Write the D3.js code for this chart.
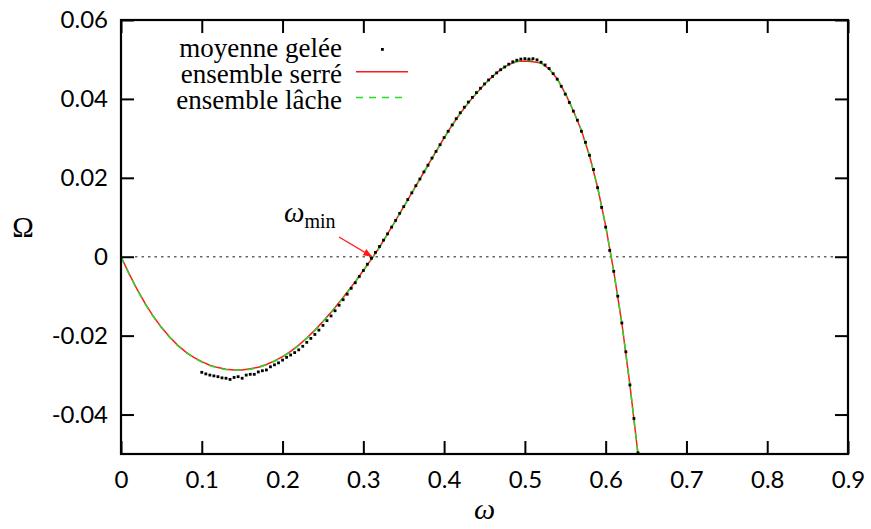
<!DOCTYPE html>
<html>
<head>
<meta charset="utf-8">
<script src="https://cdn.jsdelivr.net/npm/d3@7"></script>
<style>
  body { margin: 0; background: #fff; }
  svg { display: block; }
</style>
</head>
<body>
<div id="chart"></div>
<script>
// courbe theorique (ensemble serre / lache), pas de 0.01
const omegaTheo = [0, 0.01, 0.02, 0.03, 0.04, 0.05, 0.06, 0.07, 0.08, 0.09,
  0.10, 0.11, 0.12, 0.13, 0.14, 0.15, 0.16, 0.17, 0.18, 0.19,
  0.20, 0.21, 0.22, 0.23, 0.24, 0.25, 0.26, 0.27, 0.28, 0.29,
  0.30, 0.31, 0.32, 0.33, 0.34, 0.35, 0.36, 0.37, 0.38, 0.39,
  0.40, 0.41, 0.42, 0.43, 0.44, 0.45, 0.46, 0.47, 0.48, 0.49,
  0.50, 0.51, 0.52, 0.53, 0.54, 0.55, 0.56, 0.57, 0.58, 0.59,
  0.60, 0.61, 0.62, 0.63, 0.64];
const omegaSerre = [0, -0.0043, -0.0083, -0.0119, -0.0151, -0.0179, -0.0203, -0.0224, -0.0241, -0.0255,
  -0.0266, -0.0275, -0.0281, -0.0285, -0.0287, -0.0287, -0.0284, -0.0280, -0.0273, -0.0264,
  -0.0253, -0.0240, -0.0224, -0.0206, -0.0186, -0.0164, -0.0141, -0.0116, -0.0090, -0.0063,
  -0.0035, -0.0006, 0.0024, 0.0058, 0.0092, 0.0127, 0.0162, 0.0197, 0.0232, 0.0267,
  0.0301, 0.0334, 0.0363, 0.0390, 0.0414, 0.0437, 0.0457, 0.0474, 0.0487, 0.0495,
  0.0496, 0.0494, 0.0491, 0.0476, 0.0451, 0.0414, 0.0370, 0.0320, 0.0256, 0.0176,
  0.0078, -0.0037, -0.0168, -0.0325, -0.0500];
const omegaLache = [0, -0.0044, -0.0084, -0.0120, -0.0152, -0.0180, -0.0204, -0.0225, -0.0242, -0.0256,
  -0.0267, -0.0276, -0.0282, -0.0286, -0.0288, -0.0288, -0.0285, -0.0281, -0.0274, -0.0265,
  -0.0254, -0.0241, -0.0225, -0.0207, -0.0187, -0.0165, -0.0142, -0.0117, -0.0091, -0.0064,
  -0.0036, -0.0007, 0.0023, 0.0057, 0.0091, 0.0126, 0.0161, 0.0196, 0.0231, 0.0266,
  0.0300, 0.0333, 0.0363, 0.0390, 0.0414, 0.0437, 0.0457, 0.0474, 0.0487, 0.0495,
  0.0499, 0.0498, 0.0491, 0.0476, 0.0451, 0.0414, 0.0370, 0.0320, 0.0256, 0.0176,
  0.0078, -0.0037, -0.0168, -0.0325, -0.0500];

// moyenne gelee, points de 0.1 a 0.64 par pas de 0.005
const omegaPts = [0.100, 0.105, 0.110, 0.115, 0.120, 0.125, 0.130, 0.135, 0.140, 0.145,
  0.150, 0.155, 0.160, 0.165, 0.170, 0.175, 0.180, 0.185, 0.190, 0.195,
  0.200, 0.205, 0.210, 0.215, 0.220, 0.225, 0.230, 0.235, 0.240, 0.245,
  0.250, 0.255, 0.260, 0.265, 0.270, 0.275, 0.280, 0.285, 0.290, 0.295,
  0.300, 0.305, 0.310, 0.315, 0.320, 0.325, 0.330, 0.335, 0.340, 0.345,
  0.350, 0.355, 0.360, 0.365, 0.370, 0.375, 0.380, 0.385, 0.390, 0.395,
  0.400, 0.405, 0.410, 0.415, 0.420, 0.425, 0.430, 0.435, 0.440, 0.445,
  0.450, 0.455, 0.460, 0.465, 0.470, 0.475, 0.480, 0.485, 0.490, 0.495,
  0.500, 0.505, 0.510, 0.515, 0.520, 0.525, 0.530, 0.535, 0.540, 0.545,
  0.550, 0.555, 0.560, 0.565, 0.570, 0.575, 0.580, 0.585, 0.590, 0.595,
  0.600, 0.605, 0.610, 0.615, 0.620, 0.625, 0.630, 0.635, 0.640];
const omegaGelee = [-0.0293, -0.0297, -0.0300, -0.0302, -0.0304, -0.0307, -0.0308, -0.0311, -0.0306, -0.0304,
  -0.0308, -0.0300, -0.0298, -0.0298, -0.0292, -0.0289, -0.0287, -0.0279, -0.0274, -0.0269,
  -0.0262, -0.0255, -0.0249, -0.0243, -0.0236, -0.0227, -0.0217, -0.0207, -0.0197, -0.0186,
  -0.0174, -0.0162, -0.0150, -0.0137, -0.0123, -0.0109, -0.0095, -0.0080, -0.0066, -0.0050,
  -0.0035, -0.0019, -0.0004, 0.0011, 0.0026, 0.0042, 0.0058, 0.0075, 0.0092, 0.0110,
  0.0127, 0.0145, 0.0162, 0.0180, 0.0197, 0.0215, 0.0232, 0.0250, 0.0267, 0.0284,
  0.0302, 0.0318, 0.0334, 0.0350, 0.0365, 0.0379, 0.0392, 0.0404, 0.0416, 0.0427,
  0.0438, 0.0448, 0.0457, 0.0466, 0.0474, 0.0481, 0.0488, 0.0494, 0.0498, 0.0501,
  0.0502, 0.0501, 0.0502, 0.0499, 0.0493, 0.0486, 0.0477, 0.0464, 0.0450, 0.0432,
  0.0412, 0.0391, 0.0369, 0.0346, 0.0318, 0.0290, 0.0257, 0.0221, 0.0175, 0.0125,
  0.0075, 0.0016, -0.0037, -0.0100, -0.0168, -0.0241, -0.0325, -0.0410, -0.0497];

const xTicks = [0, 0.1, 0.2, 0.3, 0.4, 0.5, 0.6, 0.7, 0.8, 0.9];
const yTicks = [-0.04, -0.02, 0, 0.02, 0.04, 0.06];
const legendLabels = ["moyenne gelée", "ensemble serré", "ensemble lâche"];
const omegaMin = 0.311;

const width = 871, height = 529;
const margin = {top: 20, right: 23, bottom: 75, left: 121};
const serif = "'Liberation Serif', 'DejaVu Serif', serif";
const tickFont = "Lato, 'Open Sans', sans-serif";

let svg = d3.select("#chart")
    .append("svg")
    .attr("width", width)
    .attr("height", height);

let x = d3.scaleLinear().domain([0, 0.9]).range([margin.left, width - margin.right]);
let y = d3.scaleLinear().domain([-0.05, 0.06]).range([height - margin.bottom, margin.top]);

svg.append("clipPath").attr("id", "plot")
    .append("rect")
    .attr("x", x(0)).attr("y", y(0.06))
    .attr("width", x(0.9) - x(0)).attr("height", y(-0.05) - y(0.06));

// ligne zero pointillee
svg.append("line")
    .attr("x1", x(0) + 14).attr("x2", x(0.9) - 14)
    .attr("y1", y(0)).attr("y2", y(0))
    .attr("stroke", "#666")
    .attr("stroke-width", 1.3)
    .attr("stroke-dasharray", "2.5,4");

let line = d3.line()
    .x(d => x(d[0]))
    .y(d => y(d[1]));

let plot = svg.append("g").attr("clip-path", "url(#plot)");

plot.append("path")
    .datum(omegaTheo.map((w, i) => [w, omegaSerre[i]]))
    .attr("d", line)
    .attr("fill", "none")
    .attr("stroke", "#ff1a1a")
    .attr("stroke-width", 1.5);

plot.append("path")
    .datum(omegaTheo.map((w, i) => [w, omegaLache[i]]))
    .attr("d", line)
    .attr("fill", "none")
    .attr("stroke", "#22dd22")
    .attr("stroke-width", 1.5)
    .attr("stroke-dasharray", "7,6");

plot.selectAll(".pt")
    .data(omegaPts.map((w, i) => [w, omegaGelee[i]]))
    .enter()
    .append("rect")
    .attr("class", "pt")
    .attr("x", d => x(d[0]) - 1.4)
    .attr("y", d => y(d[1]) - 1.4)
    .attr("width", 2.8)
    .attr("height", 2.8)
    .attr("fill", "#000");

// axes : graduations vers l'interieur sur les quatre cotes
let fmtX = d => d === 0 ? "0" : d.toFixed(1);
let fmtY = d => d === 0 ? "0" : d.toFixed(2);

let axes = [
    [d3.axisBottom(x).tickValues(xTicks).tickFormat(fmtX).tickPadding(17), `translate(0,${y(-0.05)})`],
    [d3.axisTop(x).tickValues(xTicks).tickFormat(""), `translate(0,${y(0.06)})`],
    [d3.axisLeft(y).tickValues(yTicks).tickFormat(fmtY).tickPadding(13), `translate(${x(0)},0)`],
    [d3.axisRight(y).tickValues(yTicks).tickFormat(""), `translate(${x(0.9)},0)`]
];
axes.forEach(a => {
    let g = svg.append("g")
        .attr("transform", a[1])
        .call(a[0].tickSizeInner(-13).tickSizeOuter(0));
    g.select(".domain").remove();
    g.selectAll(".tick line").attr("stroke", "#000").attr("stroke-width", 2);
    g.selectAll(".tick text")
        .attr("fill", "#000")
        .style("font-family", tickFont)
        .style("font-size", "24px");
});

svg.append("rect")
    .attr("x", x(0)).attr("y", y(0.06))
    .attr("width", x(0.9) - x(0)).attr("height", y(-0.05) - y(0.06))
    .attr("fill", "none")
    .attr("stroke", "#000")
    .attr("stroke-width", 2.2);

// titres des axes
svg.append("text")
    .attr("x", 23).attr("y", 237)
    .attr("text-anchor", "middle")
    .style("font-family", serif)
    .style("font-size", "29px")
    .text("Ω");

svg.append("text")
    .attr("x", (x(0) + x(0.9)) / 2).attr("y", 519)
    .attr("text-anchor", "middle")
    .style("font-family", serif)
    .style("font-style", "italic")
    .style("font-size", "30px")
    .text("ω");

// annotation omega_min
let ann = svg.append("text")
    .attr("x", 284).attr("y", 222)
    .style("font-family", serif)
    .style("font-size", "29px");
ann.append("tspan").style("font-style", "italic").text("ω");
ann.append("tspan").attr("dy", 6).style("font-size", "20px").text("min");

svg.append("defs").append("marker")
    .attr("id", "head")
    .attr("viewBox", "0 0 10 10")
    .attr("refX", 10).attr("refY", 5)
    .attr("markerWidth", 9).attr("markerHeight", 9)
    .attr("markerUnits", "userSpaceOnUse")
    .attr("orient", "auto")
    .append("path")
    .attr("d", "M0,1 L10,5 L0,9 z")
    .attr("fill", "#ff1a1a");

svg.append("line")
    .attr("x1", 339).attr("y1", 237)
    .attr("x2", x(omegaMin)).attr("y2", y(0))
    .attr("stroke", "#ff1a1a")
    .attr("stroke-width", 1.3)
    .attr("marker-end", "url(#head)");

// legende
let leg = svg.append("g");
legendLabels.forEach((t, i) => {
    let yy = 57 + i * 25.8;
    leg.append("text")
        .attr("x", 342).attr("y", yy)
        .attr("text-anchor", "end")
        .style("font-family", serif)
        .style("font-size", "27px")
        .text(t);
    if (i === 0) {
        leg.append("rect")
            .attr("x", 381).attr("y", yy - 9)
            .attr("width", 2.8).attr("height", 2.8)
            .attr("fill", "#000");
    } else {
        leg.append("line")
            .attr("x1", 356).attr("x2", 408)
            .attr("y1", yy - 11).attr("y2", yy - 11)
            .attr("stroke", i === 1 ? "#ff1a1a" : "#22dd22")
            .attr("stroke-width", 1.5)
            .attr("stroke-dasharray", i === 1 ? null : "7,6");
    }
});
</script>
</body>
</html>
